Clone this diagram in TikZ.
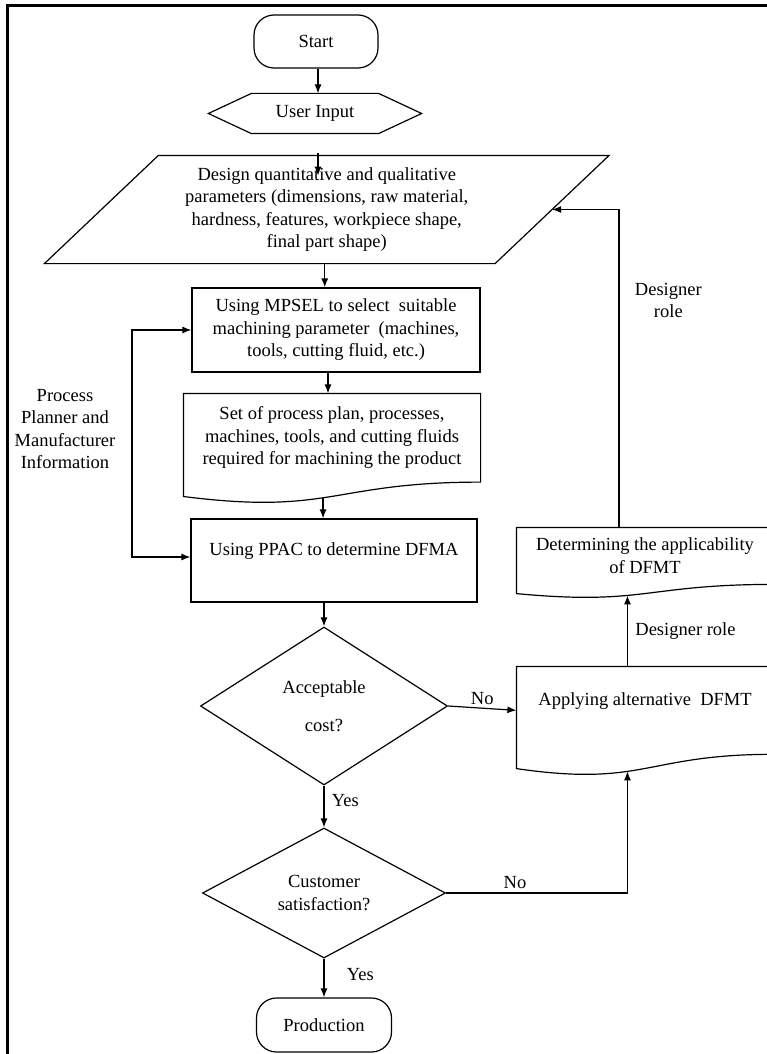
\documentclass[tikz,border=0pt]{standalone}
\usepackage{fontspec}
\setmainfont{Liberation Serif}
\usetikzlibrary{shapes.geometric,calc,arrows.meta}

% document shape: node, left drop, wave depth, pos of the wave point
\newcommand{\docoutline}[4]{%
  \draw (#1.north west) -- (#1.north east) -- (#1.south east)
    .. controls (#1.south) and ([yshift=-#3pt]#1.south) .. ([yshift=-#2pt]#1.south west)
    coordinate[pos=#4] (#1W) -- cycle;}

\tikzset{
  arr/.style={-{Latex[length=9pt,width=7pt]}},
  arrs/.style={{Latex[length=9pt,width=7pt]}-{Latex[length=9pt,width=7pt]}}
}

\begin{document}
\begin{tikzpicture}[
    x=1pt, y=-1pt, line width=1.2pt,
    font=\fontsize{18.5}{22.5}\selectfont,
    term/.style={draw, rounded corners=20pt, align=center},
    box/.style={draw, align=center, inner sep=0pt},
    plain/.style={align=center, inner sep=0pt},
    dec/.style={draw, diamond, align=center, inner sep=0pt},
    lbl/.style={align=center}
  ]
  \useasboundingbox (0,0) rectangle (767,1054);
  \draw[line width=3pt] (7,1060) -- (7,6) -- (780,6);

  % main column
  \node[term, minimum width=124pt, minimum height=53pt] (start) at (316,41.5) {Start};
  \node[plain, minimum width=212pt, minimum height=39pt] (ui) at (315,113.5) {User Input};
  \draw (ui.west) -- ([xshift=43pt]ui.north west) -- ([xshift=-43pt]ui.north east) -- (ui.east)
    -- ([xshift=-43pt]ui.south east) -- ([xshift=43pt]ui.south west) -- cycle;
  \node[plain, minimum width=449.5pt, minimum height=107pt] (param) at (326.75,209.5)
    {Design quantitative and qualitative\\parameters (dimensions, raw material,\\hardness, features, workpiece shape,\\final part shape)};
  \draw ([xshift=57pt]param.north west) -- ([xshift=57pt]param.north east)
    -- ([xshift=-57pt]param.south east) -- ([xshift=-57pt]param.south west) -- cycle;
  \node[box, minimum width=288pt, minimum height=84pt] (mpsel) at (336,330)
    {Using MPSEL to select~ suitable\\machining parameter~ (machines,\\tools, cutting fluid, etc.)};
  \node[plain, minimum width=296pt, minimum height=87.5pt] (set) at (332,437.75)
    {Set of process plan, processes,\\machines, tools, and cutting fluids\\required for machining the product};
  \docoutline{set}{14.4}{33.3}{0.54}
  \node[box, minimum width=286pt, minimum height=83pt] (ppac) at (334,560.5)
    {Using PPAC to determine DFMA\\\mbox{}};
  \node[dec, minimum width=247pt, minimum height=158pt] (cost) at (324,706) {Acceptable\\[15pt]cost?};
  \node[dec, minimum width=243pt, minimum height=130pt] (cust) at (324,893) {Customer\\satisfaction?};
  \node[term, minimum width=135pt, minimum height=54pt] (prod) at (324,1025) {Production};

  % right column
  \node[plain, minimum width=256pt, minimum height=86.7pt] (apply) at (645,710.35)
    {Applying alternative~ DFMT\\\mbox{}};
  \docoutline{apply}{14.3}{33.0}{0.59}
  \node[plain, minimum width=256pt, minimum height=55.8pt] (det) at (645,555.9)
    {Determining the applicability\\of DFMT};
  \docoutline{det}{9.2}{21.3}{0.59}

  \node[lbl] (planner) at (65,429) {Process\\Planner and\\Manufacturer\\Information};

  % connectors
  \draw[arr] ([xshift=2pt]start.south) -- ([xshift=2pt]start.south |- ui.north);
  \draw[arr] ([xshift=3pt,yshift=-19pt]ui.south) -- ([xshift=3pt,yshift=-42pt]ui.south);
  \draw[arr] ([xshift=-2pt]param.south) -- ([xshift=-2pt]param.south |- mpsel.north);
  \draw[arr] ([xshift=-8pt]mpsel.south) -- ([xshift=-8pt]mpsel.south |- set.north);
  \draw[arr] (setW) -- (setW |- ppac.north);
  \draw[arr] (ppac.south -| cost.north) -- (cost.north);
  \draw[arr] (cost.south) -- node[lbl, pos=0.35, right=4pt] {Yes} (cust.north);
  \draw[arr] (cust.south) -- node[lbl, pos=0.4, right=19pt] {Yes} (prod.north);
  \draw[arr] (cost.east) -- node[lbl, above] {No} (apply.west);
  \draw[arr] (cust.east) -| node[lbl, pos=0.19, above] {No} (applyW);
  \draw[arr] (detW |- apply.north) -- node[lbl, right=4pt] {Designer role} (detW);
  \draw[arr] ([xshift=-26pt]det.north) |- node[lbl, pos=0.357, right=12pt] {Designer\\role} (param.east);
  \draw[arrs] (mpsel.west) -- ++(-59.5,0) |- ([yshift=3.5pt]ppac.west);
\end{tikzpicture}
\end{document}
